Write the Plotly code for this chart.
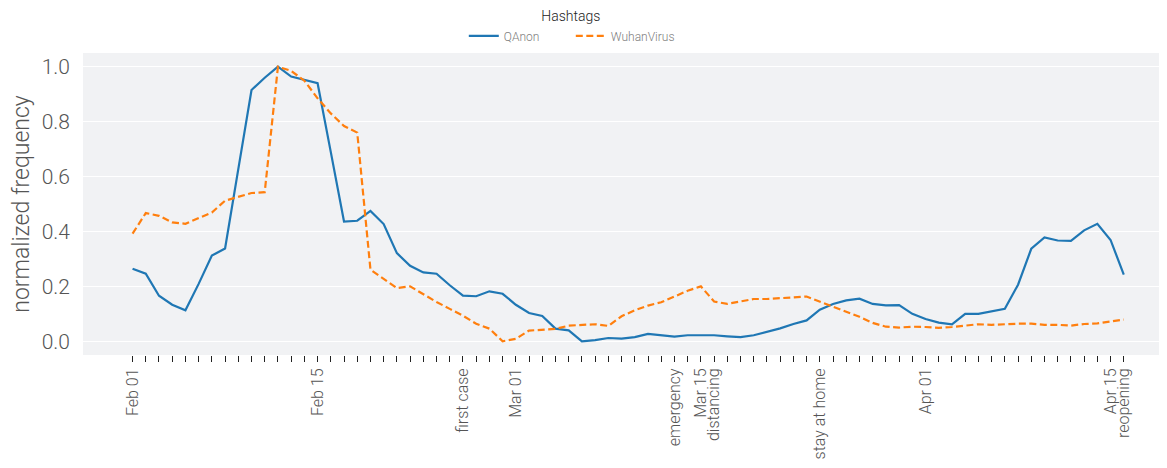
import pandas as pd
import plotly.graph_objects as go

dates = pd.date_range("2020-02-01", "2020-04-16", freq="D")

qanon = [0.264, 0.246, 0.166, 0.133, 0.113, 0.209, 0.312, 0.338, 0.627, 0.915,
         0.960, 1.000, 0.964, 0.952, 0.940, 0.689, 0.436, 0.439, 0.475, 0.427,
         0.321, 0.275, 0.251, 0.246, 0.204, 0.166, 0.164, 0.182, 0.173, 0.133,
         0.103, 0.092, 0.046, 0.040, 0.000, 0.004, 0.012, 0.010, 0.015, 0.027,
         0.023, 0.017, 0.022, 0.023, 0.022, 0.018, 0.015, 0.022, 0.034, 0.047,
         0.063, 0.076, 0.115, 0.136, 0.149, 0.155, 0.136, 0.131, 0.132, 0.100,
         0.081, 0.068, 0.062, 0.100, 0.100, 0.109, 0.118, 0.206, 0.337, 0.378,
         0.367, 0.366, 0.404, 0.428, 0.369, 0.243]

wuhan = [0.392, 0.467, 0.457, 0.433, 0.428, 0.449, 0.469, 0.512, 0.527, 0.540,
         0.543, 1.000, 0.985, 0.949, 0.885, 0.830, 0.784, 0.760, 0.261, 0.227,
         0.194, 0.200, 0.170, 0.143, 0.118, 0.093, 0.064, 0.046, 0.000, 0.009,
         0.039, 0.043, 0.045, 0.057, 0.060, 0.062, 0.056, 0.091, 0.113, 0.130,
         0.142, 0.164, 0.184, 0.200, 0.145, 0.136, 0.145, 0.154, 0.154, 0.156,
         0.160, 0.163, 0.145, 0.125, 0.109, 0.089, 0.067, 0.053, 0.050, 0.053,
         0.052, 0.049, 0.052, 0.056, 0.062, 0.060, 0.063, 0.064, 0.064, 0.060,
         0.060, 0.057, 0.063, 0.065, 0.072, 0.079]

tick_labels = {
    "2020-02-01": "Feb 01",
    "2020-02-15": "Feb 15",
    "2020-02-26": "first case",
    "2020-03-01": "Mar 01",
    "2020-03-13": "emergency",
    "2020-03-15": "Mar 15",
    "2020-03-16": "distancing",
    "2020-03-24": "stay at home",
    "2020-04-01": "Apr 01",
    "2020-04-15": "Apr 15",
    "2020-04-16": "reopening",
}

y_ticks = [0.0, 0.2, 0.4, 0.6, 0.8, 1.0]

FONT = "Roboto"

fig = go.Figure()
fig.add_trace(go.Scatter(x=dates, y=qanon, mode="lines", name="QAnon",
                         line=dict(color="#1f77b4", width=2.2)))
fig.add_trace(go.Scatter(x=dates, y=wuhan, mode="lines", name="WuhanVirus",
                         line=dict(color="#ff7f0e", width=2.2, dash="7px,3.5px")))

tickvals = list(dates)
ticktext = [tick_labels.get(d.strftime("%Y-%m-%d"), "") for d in dates]

x_left = dates[0] - pd.Timedelta(hours=3.75 * 24)
x_right = dates[0] + pd.Timedelta(hours=78.27 * 24)

fig.update_layout(
    width=1159, height=460,
    margin=dict(l=75, r=0, t=45, b=112.5, autoexpand=False),
    paper_bgcolor="white",
    plot_bgcolor="#f1f2f4",
    font=dict(family=FONT, color="#444444"),
    showlegend=True,
    legend=dict(
        orientation="h", x=0.45, xanchor="center", y=1.165, yanchor="top",
        title=dict(text="Hashtags", side="top center",
                   font=dict(family=FONT, size=14, color="#222222")),
        font=dict(family=FONT, size=12, color="#808080", weight=300),
        bgcolor="rgba(0,0,0,0)", itemwidth=30, tracegroupgap=0,
        entrywidth=62, entrywidthmode="pixels",
    ),
    xaxis=dict(
        type="date", range=[x_left, x_right], automargin=False,
        tickmode="array", tickvals=tickvals, ticktext=ticktext,
        tickangle=-90, ticks="outside", ticklen=6, tickwidth=1.4,
        tickcolor="#222222", showgrid=False, zeroline=False, showline=False,
        tickfont=dict(family=FONT, size=16, color="#555555", weight=300),
    ),
    yaxis=dict(
        range=[-0.05, 1.05], tickmode="array", tickvals=y_ticks, automargin=False,
        tickformat=".1f", showgrid=True, gridcolor="white", gridwidth=1.3,
        zeroline=False, showline=False, ticks="", ticklabelstandoff=12,
        tickfont=dict(family=FONT, size=21, color="#555555", weight=300),
        title=dict(text="normalized frequency", standoff=9,
                   font=dict(family=FONT, size=23, color="#555555", weight=300)),
    ),
)

fig.write_html("out.html")
